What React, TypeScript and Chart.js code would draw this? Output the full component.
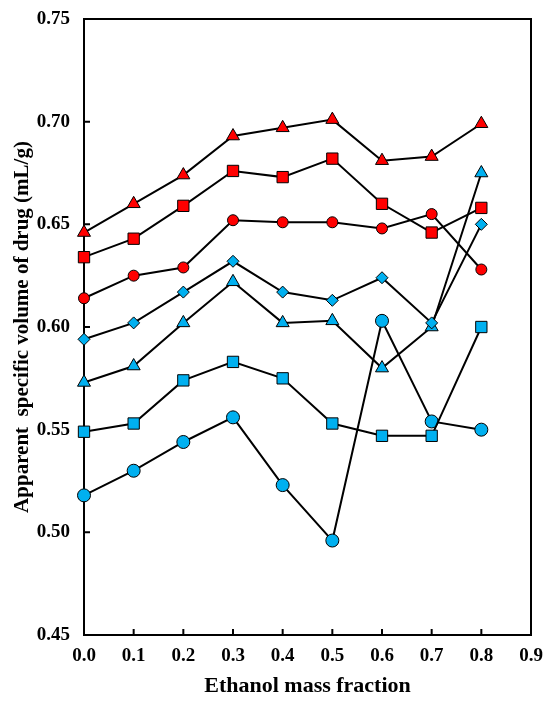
import { useEffect, useRef } from "react";
import { Chart, registerables } from "chart.js";

Chart.register(...registerables);

// ethanol mass fraction
const fractions = [0.0, 0.1, 0.2, 0.3, 0.4, 0.5, 0.6, 0.7, 0.8];

const redTriangle = [0.646, 0.660, 0.674, 0.693, 0.697, 0.701, 0.681, 0.683, 0.699];
const redSquare = [0.634, 0.643, 0.659, 0.676, 0.673, 0.682, 0.660, 0.646, 0.658];
const redCircle = [0.614, 0.625, 0.629, 0.652, 0.651, 0.651, 0.648, 0.655, 0.628];
const blueDiamond = [0.594, 0.602, 0.617, 0.632, 0.617, 0.613, 0.624, 0.602, 0.650];
const blueTriangle = [0.573, 0.581, 0.602, 0.622, 0.602, 0.603, 0.580, 0.600, 0.675];
const blueSquare = [0.549, 0.553, 0.574, 0.583, 0.575, 0.553, 0.547, 0.547, 0.600];
const blueCircle = [0.518, 0.530, 0.544, 0.556, 0.523, 0.496, 0.603, 0.554, 0.550];

const yTicks = [0.45, 0.5, 0.55, 0.6, 0.65, 0.7, 0.75];
const xTicks = [0.0, 0.1, 0.2, 0.3, 0.4, 0.5, 0.6, 0.7, 0.8, 0.9];

const RED = "#FF0000";
const BLUE = "#00B0F0";
const FONT = "'Liberation Serif', 'Times New Roman', serif";

// frame and inward tick marks, drawn under the markers
const framePlugin = {
  id: "frame",
  beforeDatasetsDraw(chart: any) {
    const { ctx, chartArea, scales } = chart;
    const { left, right, top, bottom } = chartArea;
    ctx.save();
    ctx.strokeStyle = "#000";
    ctx.lineWidth = 2;
    ctx.strokeRect(left, top, right - left, bottom - top);
    ctx.beginPath();
    xTicks.forEach((v) => {
      const px = scales.x.getPixelForValue(v);
      ctx.moveTo(px, bottom);
      ctx.lineTo(px, bottom - 6);
    });
    yTicks.forEach((v) => {
      const py = scales.y.getPixelForValue(v);
      ctx.moveTo(left, py);
      ctx.lineTo(left + 6, py);
    });
    ctx.stroke();
    ctx.restore();
  },
};

function series(label: string, values: number[], color: string, style: string, radius: number) {
  return {
    label,
    data: values.map((y, i) => ({ x: fractions[i], y })),
    borderColor: "#000",
    borderWidth: 2,
    backgroundColor: color,
    pointStyle: style,
    pointRadius: radius,
    pointBackgroundColor: color,
    pointBorderColor: "#000",
    pointBorderWidth: 1,
    tension: 0,
    clip: false,
  };
}

export default function App() {
  const canvasRef = useRef<HTMLCanvasElement>(null);
  const chartRef = useRef<Chart | null>(null);

  useEffect(() => {
    if (!canvasRef.current) return;
    if (chartRef.current) chartRef.current.destroy();

    const datasets: any[] = [
      series("Red triangle", redTriangle, RED, "triangle", 7.5),
      series("Red square", redSquare, RED, "rect", 8),
      series("Red circle", redCircle, RED, "circle", 5.5),
      series("Blue diamond", blueDiamond, BLUE, "rectRot", 6),
      series("Blue triangle", blueTriangle, BLUE, "triangle", 7.5),
      series("Blue square", blueSquare, BLUE, "rect", 8),
      series("Blue circle", blueCircle, BLUE, "circle", 6.5),
    ];

    chartRef.current = new Chart(canvasRef.current, {
      type: "line",
      data: { datasets },
      plugins: [framePlugin],
      options: {
        animation: false,
        responsive: true,
        maintainAspectRatio: false,
        layout: { padding: { left: 0, right: 19, top: 19, bottom: 0 } },
        plugins: {
          legend: { display: false },
          tooltip: { enabled: false },
        },
        scales: {
          x: {
            type: "linear",
            min: 0,
            max: 0.9,
            afterFit: (s: any) => {
              s.height = 69;
              s.paddingLeft = 0;
              s.paddingRight = 0;
            },
            afterBuildTicks: (s: any) => {
              s.ticks = xTicks.map((v) => ({ value: v }));
            },
            grid: { display: false, drawTicks: false },
            border: { display: false },
            ticks: {
              padding: 10,
              color: "#000",
              font: { family: FONT, size: 19, weight: "bold" },
              callback: (v: any) => Number(v).toFixed(1),
            },
            title: {
              display: true,
              text: "Ethanol mass fraction",
              color: "#000",
              font: { family: FONT, size: 22, weight: "bold" },
              padding: { top: 0, bottom: 4 },
            },
          },
          y: {
            type: "linear",
            min: 0.45,
            max: 0.75,
            afterFit: (s: any) => {
              s.width = 84;
              s.paddingTop = 0;
              s.paddingBottom = 0;
            },
            afterBuildTicks: (s: any) => {
              s.ticks = yTicks.map((v) => ({ value: v }));
            },
            grid: { display: false, drawTicks: false },
            border: { display: false },
            ticks: {
              padding: 14,
              color: "#000",
              font: { family: FONT, size: 19, weight: "bold" },
              callback: (v: any) => Number(v).toFixed(2),
            },
            title: {
              display: true,
              text: "Apparent  specific volume of drug (mL/g)",
              color: "#000",
              font: { family: FONT, size: 21, weight: "bold" },
              padding: { top: 10, bottom: 0 },
            },
          },
        },
      },
    });

    return () => {
      if (chartRef.current) {
        chartRef.current.destroy();
        chartRef.current = null;
      }
    };
  }, []);

  return (
    <div style={{ position: "fixed", left: 0, top: 0, width: 550, height: 704, background: "#fff" }}>
      <canvas ref={canvasRef}></canvas>
    </div>
  );
}
